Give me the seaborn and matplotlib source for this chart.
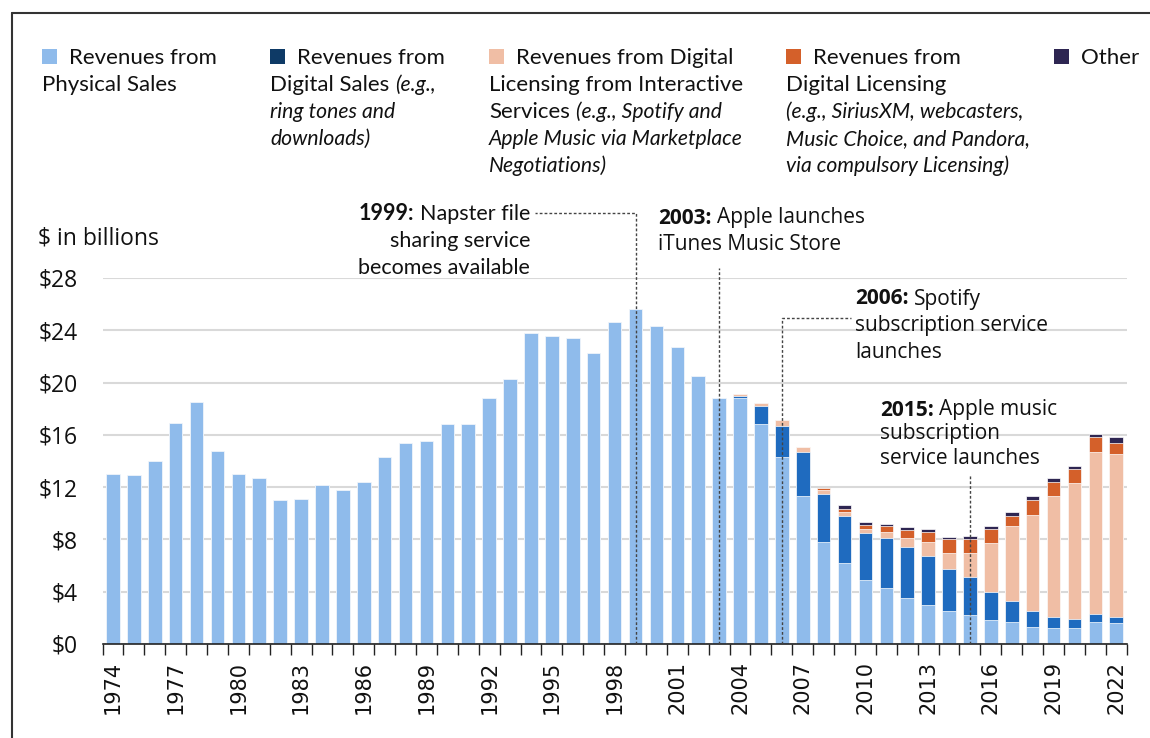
import numpy as np
import pandas as pd
import matplotlib
matplotlib.use("Agg")
import matplotlib.pyplot as plt
import seaborn as sns
from matplotlib.patches import Rectangle
from matplotlib.lines import Line2D
from matplotlib.transforms import IdentityTransform

# values, $ billions
years = list(range(1974, 2023))
physical = [13.0, 12.9, 14.0, 16.9, 18.5, 14.8, 13.0, 12.7, 11.0, 11.1,
            12.2, 11.8, 12.4, 14.3, 15.4, 15.5, 16.8, 16.8, 18.8, 20.3,
            23.8, 23.6, 23.4, 22.3, 24.6, 25.6, 24.3, 22.7, 20.5, 18.8,
            18.8, 16.8, 14.3, 11.3, 7.8, 6.2, 4.9, 4.3, 3.5, 3.0,
            2.5, 2.2, 1.8, 1.7, 1.3, 1.2, 1.2, 1.7, 1.6]
pre_digital = [0.0] * 30  # 1974-2003
digital = pre_digital + [0.2, 1.4, 2.4, 3.4, 3.7, 3.6, 3.6, 3.8, 3.9, 3.7,
                         3.2, 2.9, 2.2, 1.6, 1.2, 0.9, 0.7, 0.6, 0.5]
interactive = pre_digital + [0.1, 0.25, 0.4, 0.4, 0.25, 0.3, 0.3, 0.5, 0.7, 1.1,
                             1.3, 1.9, 3.7, 5.7, 7.4, 9.2, 10.4, 12.4, 12.4]
licensing = pre_digital + [0.0, 0.0, 0.0, 0.0, 0.2, 0.2, 0.3, 0.4, 0.6, 0.75,
                           1.0, 1.0, 1.1, 0.8, 1.1, 1.1, 1.05, 1.1, 0.9]
other = pre_digital + [0.0, 0.0, 0.0, 0.0, 0.0, 0.3, 0.2, 0.2, 0.25, 0.25,
                       0.2, 0.25, 0.25, 0.3, 0.35, 0.3, 0.3, 0.3, 0.4]

df = pd.DataFrame({"year": years, "physical": physical, "digital": digital,
                   "interactive": interactive, "licensing": licensing, "other": other})
layers = ["physical", "digital", "interactive", "licensing", "other"]
bar_colors = {"physical": "#8fbbeb", "digital": "#1f6bbf", "interactive": "#f0bea5",
              "licensing": "#d4602a", "other": "#2e2652"}
key_colors = ["#8fbbeb", "#0e3a66", "#f0bea5", "#d4602a", "#2e2652"]

# cumulative tops so overlaid bars look stacked
for i, name in enumerate(layers):
    df["top_" + name] = df[layers[:i + 1]].sum(axis=1)

sns.set_theme(style="white")
plt.rcParams["font.family"] = ["Lato", "DejaVu Sans"]

W, H = 1150, 738
fig = plt.figure(figsize=(W / 100, H / 100), dpi=100)
ax = fig.add_axes([102.5 / W, 1 - 644 / H, 1024.2 / W, 366 / H])

for name in reversed(layers):
    sns.barplot(data=df, x="year", y="top_" + name, color=bar_colors[name],
                saturation=1, width=0.65, errorbar=None, edgecolor="white",
                linewidth=0.5, ax=ax)

ax.set_xlim(-0.5, 48.5)
ax.set_ylim(0, 28)
ax.set_xlabel("")
ax.set_ylabel("")
ax.set_yticks(range(0, 29, 4))
ax.set_yticklabels([f"${v}" for v in range(0, 29, 4)], family=["Open Sans", "DejaVu Sans"],
                   fontsize=16.5, color="#111111")
ax.tick_params(axis="y", length=0, pad=18)
ax.yaxis.grid(True, color="#d9d9d9", lw=1.5)
ax.set_axisbelow(True)
ax.set_xticks(range(0, 49, 3))
ax.set_xticklabels([str(y) for y in years[::3]], rotation=90, family="DejaVu Sans",
                   fontsize=15, color="#111111")
ax.set_xticks(np.arange(-0.5, 49, 1), minor=True)
ax.tick_params(axis="x", which="major", length=0, pad=12)
ax.tick_params(axis="x", which="minor", length=8, width=1, color="#222222", direction="out",
               bottom=True)
for s in ["top", "right", "left"]:
    ax.spines[s].set_visible(False)
ax.spines["bottom"].set_color("#222222")
ax.spines["bottom"].set_linewidth(1.2)

# dashed leader lines for the annotations
dash = dict(color="#444444", lw=1, ls=(0, (2, 1.5)), clip_on=False, zorder=5)
ax.plot([25, 25, 20.2], [0, 33.0, 33.0], **dash)
ax.plot([29, 29], [0, 28.8], **dash)
ax.plot([32, 32, 35.3], [0, 24.95, 24.95], **dash)
ax.plot([41, 41], [0, 12.9], **dash)

renderer = fig.canvas.get_renderer()


def rich(x, y, parts, size, family, ha="left"):
    # parts: list of (text, style) with style r / b / i; x, y in pixels from top-left
    fam = [family, "DejaVu Sans"]
    made = []
    for s, st in parts:
        made.append(fig.text(0, 0, s, transform=IdentityTransform(),
                             fontsize=size * 0.95 if st == "i" else size,
                             family=fam, color="#111111",
                             fontweight="bold" if st == "b" else "normal",
                             fontstyle="italic" if st == "i" else "normal",
                             va="center", ha="left"))
    a = fig.text(0, 0, "x x", fontsize=size, family=fam)
    b = fig.text(0, 0, "xx", fontsize=size, family=fam)
    sp = a.get_window_extent(renderer).width - b.get_window_extent(renderer).width
    a.remove()
    b.remove()
    widths = [t.get_window_extent(renderer).width for t in made]
    total = sum(widths) + sp * (len(made) - 1)
    x0 = x - total if ha == "right" else x
    for t, w in zip(made, widths):
        t.set_position((x0, H - y))
        x0 += w + sp


# legend drawn as text blocks, marker inline with first line
LEG = 16
legend_items = [
    (42, [[("Revenues from", "r")], [("Physical Sales", "r")]]),
    (270, [[("Revenues from", "r")], [("Digital Sales", "r"), ("(e.g.,", "i")],
           [("ring tones and", "i")], [("downloads)", "i")]]),
    (489, [[("Revenues from Digital", "r")], [("Licensing from Interactive", "r")],
           [("Services", "r"), ("(e.g., Spotify and", "i")],
           [("Apple Music via Marketplace", "i")], [("Negotiations)", "i")]]),
    (786, [[("Revenues from", "r")], [("Digital Licensing", "r")],
           [("(e.g., SiriusXM, webcasters,", "i")], [("Music Choice, and Pandora,", "i")],
           [("via compulsory Licensing)", "i")]]),
    (1054, [[("Other", "r")]]),
]
for (x, lines), col in zip(legend_items, key_colors):
    fig.add_artist(Rectangle((x, H - 64), 15, 15, transform=IdentityTransform(),
                             facecolor=col, edgecolor="none"))
    for k, parts in enumerate(lines):
        rich(x + 27 if k == 0 else x, 58 + 27 * k, parts, LEG, "Lato")

rich(38, 238, [("$ in billions", "r")], 16.5, "Open Sans")

ANN = 15
rich(530, 214, [("1999:", "b"), ("Napster file", "r")], 15.5, "Lato", ha="right")
rich(530, 241, [("sharing service", "r")], 15.5, "Lato", ha="right")
rich(530, 268, [("becomes available", "r")], 15.5, "Lato", ha="right")
rich(658, 218, [("2003:", "b"), ("Apple launches", "r")], ANN, "Open Sans")
rich(658, 244, [("iTunes Music Store", "r")], ANN, "Open Sans")
rich(855, 299, [("2006:", "b"), ("Spotify", "r")], ANN, "Open Sans")
rich(855, 326, [("subscription service", "r")], ANN, "Open Sans")
rich(855, 352, [("launches", "r")], ANN, "Open Sans")
rich(880, 410, [("2015:", "b"), ("Apple music", "r")], ANN, "Open Sans")
rich(880, 434, [("subscription", "r")], ANN, "Open Sans")
rich(880, 458, [("service launches", "r")], ANN, "Open Sans")

# outer frame (top and left edges visible in the reference)
fig.add_artist(Line2D([12, W], [H - 13, H - 13], transform=IdentityTransform(),
                      color="#333333", lw=1.5))
fig.add_artist(Line2D([12, 12], [0, H - 13], transform=IdentityTransform(),
                      color="#333333", lw=1.5))

fig.savefig("out.png", dpi=100)
